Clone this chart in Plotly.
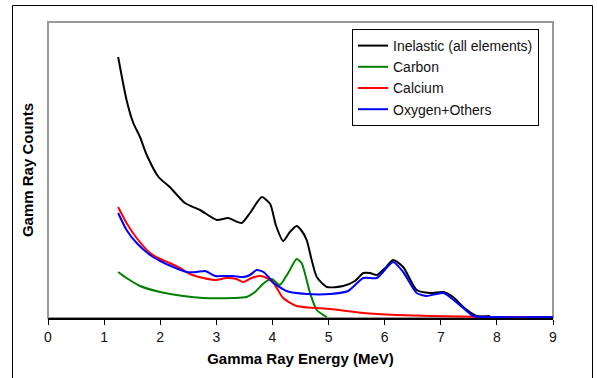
import plotly.graph_objects as go

# Energy (MeV) and counts (arbitrary units)
inel_x = [1.25, 1.40, 1.52, 1.64, 1.76, 1.97, 2.17, 2.44, 2.71, 3.01, 3.21, 3.45, 3.60, 3.81, 3.96,
          4.06, 4.19, 4.31, 4.43, 4.51, 4.61, 4.69, 4.79, 4.97, 5.26, 5.47, 5.62, 5.74, 5.86, 6.01,
          6.15, 6.33, 6.57, 6.81, 7.05, 7.22, 7.40, 7.64, 7.88]
inel_y = [261, 218, 195, 181, 163, 141, 131, 115, 108, 98, 100, 95, 105, 121, 114,
          93, 77, 86, 92, 88, 78, 60, 41, 31, 32, 37, 45, 45, 43, 50,
          58, 51, 28, 25, 26, 21, 11, 2, 2]

carbon_x = [1.25, 1.40, 1.64, 2.00, 2.41, 2.77, 3.30, 3.54, 3.69, 3.81, 3.90, 3.99, 4.13, 4.28,
            4.43, 4.52, 4.67, 4.79, 4.97]
carbon_y = [46, 40, 32, 26, 22, 20, 20, 21, 26, 33, 37, 39, 33, 45,
            59, 55, 25, 8, 1]

calcium_x = [1.25, 1.40, 1.58, 1.82, 2.00, 2.17, 2.35, 2.53, 2.77, 2.98, 3.18, 3.36, 3.48, 3.63,
             3.78, 3.90, 4.02, 4.19, 4.43, 5.03, 5.62, 6.21, 6.81, 7.88, 9.00]
calcium_y = [111, 95, 80, 65, 59, 55, 50, 44, 40, 38, 40, 39, 36, 40,
             42, 40, 35, 20, 12, 9, 5, 3, 2, 1, 1]

oxygen_x = [1.25, 1.40, 1.58, 1.82, 2.00, 2.23, 2.47, 2.65, 2.80, 2.98, 3.12, 3.30, 3.48, 3.60,
            3.72, 3.84, 3.93, 4.02, 4.25, 4.61, 5.03, 5.35, 5.62, 5.86, 6.15, 6.33, 6.57, 6.75,
            7.05, 7.40, 7.58, 7.88, 9.00]
oxygen_y = [105, 88, 75, 63, 57, 51, 46, 46, 47, 42, 42, 42, 41, 43,
            48, 46, 41, 35, 27, 24, 24, 27, 40, 40, 56, 46, 25, 22,
            25, 10, 2, 1, 1]

x_ticks = [0, 1, 2, 3, 4, 5, 6, 7, 8, 9]

FONT = "Liberation Sans, Arial, sans-serif"

fig = go.Figure()
series = [
    ("Inelastic (all elements)", inel_x, inel_y, "#000000"),
    ("Carbon", carbon_x, carbon_y, "#008000"),
    ("Calcium", calcium_x, calcium_y, "#ff0000"),
    ("Oxygen+Others", oxygen_x, oxygen_y, "#0000ff"),
]
for name, xs, ys, col in series:
    fig.add_trace(go.Scatter(x=xs, y=ys, name=name, mode="lines",
                             line=dict(color=col, width=2, shape="spline", smoothing=0.6)))

L, R, T, B = 48, 44, 22, 60
W, H = 597, 378
pw, ph = W - L - R, H - T - B

def px(x):
    return (x - L) / pw

def py(y):
    return (H - B - y) / ph

fig.update_layout(
    width=W, height=H,
    margin=dict(l=L, r=R, t=T, b=B),
    paper_bgcolor="white", plot_bgcolor="white",
    font=dict(family=FONT, size=14, color="black"),
    showlegend=True,
    legend=dict(x=px(352), y=py(29), xanchor="left", yanchor="top",
                bordercolor="black", borderwidth=1, bgcolor="white",
                font=dict(family=FONT, size=14, color="#111111"),
                itemwidth=30, tracegroupgap=0),
    xaxis=dict(range=[0, 9], tickvals=x_ticks, ticktext=[str(t) for t in x_ticks],
               showgrid=False, zeroline=False, showline=True, linecolor="black", linewidth=1.5,
               ticks="outside", ticklen=5, tickcolor="black", tickwidth=1,
               tickfont=dict(size=14, color="#111111"),
               title=dict(text="<b>Gamma Ray Energy (MeV)</b>", font=dict(size=15, color="black"),
                          standoff=10)),
    yaxis=dict(range=[0, 296], showticklabels=False, showgrid=False, zeroline=False,
               showline=False, ticks="",
               title=dict(text="<b>Gamm Ray Counts</b>", font=dict(size=15, color="black"),
                          standoff=9)),
    shapes=[
        # plot area frame (gray)
        dict(type="rect", xref="paper", yref="paper", x0=0, x1=1, y0=0, y1=1,
             line=dict(color="#999999", width=2), layer="below"),
        # outer chart border (left, top, right)
        dict(type="path", xref="paper", yref="paper",
             path=f"M {px(12.5)} {py(400)} L {px(12.5)} {py(5.5)} L {px(592.5)} {py(5.5)} L {px(592.5)} {py(400)}",
             line=dict(color="black", width=1)),
    ],
)

fig.write_html("out.html")
